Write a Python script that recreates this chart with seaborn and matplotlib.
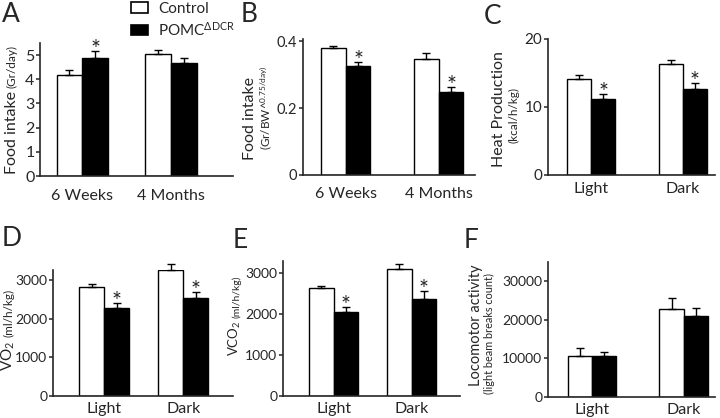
# -*- coding: utf-8 -*-
"""Food intake / metabolic cage panels A-F: Control vs POMC-deltaDCR."""

import pandas as pd
import matplotlib
matplotlib.use('Agg')
import matplotlib.pyplot as plt
from matplotlib.patches import Patch
import seaborn as sns

# ---- data ----
groups = ['Control', 'POMC']
age_cats = ['6 Weeks', '4 Months']
phase_cats = ['Light', 'Dark']

a_ctrl, a_ctrl_err = [4.17, 5.04], [0.2, 0.17]
a_pomc, a_pomc_err = [4.88, 4.68], [0.3, 0.19]
a_sig = [True, False]

b_ctrl, b_ctrl_err = [0.378, 0.345], [0.007, 0.02]
b_pomc, b_pomc_err = [0.325, 0.248], [0.012, 0.015]
b_sig = [True, True]

c_ctrl, c_ctrl_err = [14.1, 16.3], [0.55, 0.6]
c_pomc, c_pomc_err = [11.2, 12.6], [0.7, 0.9]
c_sig = [True, True]

d_ctrl, d_ctrl_err = [2830, 3260], [75, 150]
d_pomc, d_pomc_err = [2280, 2530], [130, 160]
d_sig = [True, True]

e_ctrl, e_ctrl_err = [2630, 3095], [60, 120]
e_pomc, e_pomc_err = [2045, 2365], [125, 195]
e_sig = [True, True]

f_ctrl, f_ctrl_err = [10750, 22700], [2000, 2900]
f_pomc, f_pomc_err = [10750, 20900], [1000, 2100]
f_sig = [False, False]

W, H = 720, 418
FONT = ['Lato', 'DejaVu Sans']
PALETTE = {'Control': 'white', 'POMC': 'black'}

sns.set_style('ticks')
plt.rcParams['font.family'] = FONT
plt.rcParams['mathtext.fontset'] = 'custom'
plt.rcParams['mathtext.rm'] = 'Lato'
plt.rcParams['mathtext.it'] = 'Lato:italic'
plt.rcParams['mathtext.bf'] = 'Lato:bold'


def px_box(left, top, right, bottom):
    return [left / W, 1 - bottom / H, (right - left) / W, (bottom - top) / H]


def bar_panel(ax, cats, ctrl, ctrl_err, pomc, pomc_err, sig, width, xlim, ylim,
              yticks, yticklabels, xpad, ysize=11):
    df = pd.DataFrame({
        'cat': cats * 2,
        'group': ['Control'] * len(cats) + ['POMC'] * len(cats),
        'val': ctrl + pomc,
    })
    sns.barplot(data=df, x='cat', y='val', hue='group', order=cats, hue_order=groups,
                palette=PALETTE, edgecolor='black', linewidth=1.0, errorbar=None,
                width=width, legend=False, ax=ax)
    errs = [ctrl_err, pomc_err]
    bar_conts = list(ax.containers)
    for gi, cont in enumerate(bar_conts):
        for ci, bar in enumerate(cont):
            xc = bar.get_x() + bar.get_width() / 2
            top = bar.get_height()
            ax.errorbar(xc, top, yerr=[[0], [errs[gi][ci]]], fmt='none', ecolor='black',
                        elinewidth=1.0, capsize=2.6, capthick=1.0, clip_on=False, zorder=1)
            if gi == 1 and sig[ci]:
                # asterisk sits a few pixels above the error bar cap
                ax.annotate('*', (xc, top + errs[gi][ci]), xytext=(0, -3.5),
                            textcoords='offset points', ha='center', va='baseline',
                            fontsize=17, annotation_clip=False)
    ax.set_xlim(*xlim)
    ax.set_ylim(*ylim)
    ax.set_yticks(yticks)
    ax.set_yticklabels(yticklabels)
    ax.set_xlabel('')
    ax.set_ylabel('')
    sns.despine(ax=ax)
    for s in ['left', 'bottom']:
        ax.spines[s].set_linewidth(1.2)
    ax.tick_params(axis='y', length=3.2, width=1.1, pad=0.8, labelsize=ysize)
    ax.tick_params(axis='x', length=0, pad=xpad, labelsize=11.5)


def inline_ylabel(fig, x_px, yc_px, parts, gap=3):
    """Single rotated line made of parts with different font sizes."""
    renderer = fig.canvas.get_renderer()
    texts = [fig.text(0, 0, s, fontsize=size, rotation=90, rotation_mode='anchor',
                      ha='left', va='baseline') for s, size in parts]
    lengths = [t.get_window_extent(renderer).height for t in texts]
    total = sum(lengths) + gap * (len(parts) - 1)
    y = (H - yc_px) - total / 2
    for t, L in zip(texts, lengths):
        t.set_position((x_px / W, y / H))
        y += L + gap


def line_ylabel(fig, x_px, yc_px, s, size):
    fig.text(x_px / W, 1 - yc_px / H, s, fontsize=size, rotation=90,
             rotation_mode='anchor', ha='center', va='baseline')


fig = plt.figure(figsize=(W / 100, H / 100), dpi=100)

ax_a = fig.add_axes(px_box(40, 43, 233, 176))
bar_panel(ax_a, age_cats, a_ctrl, a_ctrl_err, a_pomc, a_pomc_err, a_sig, 0.58,
          (-0.477, 1.70), (0, 5.5), [0, 1, 2, 3, 4, 5], ['0', '1', '2', '3', '4', '5'], 9,
          ysize=11.5)

ax_b = fig.add_axes(px_box(303, 39, 475, 175))
bar_panel(ax_b, age_cats, b_ctrl, b_ctrl_err, b_pomc, b_pomc_err, b_sig, 0.53,
          (-0.46, 1.39), (0, 0.406), [0, 0.2, 0.4], ['0', '0.2', '0.4'], 9, ysize=10.5)

ax_c = fig.add_axes(px_box(548, 39, 715, 175))
bar_panel(ax_c, phase_cats, c_ctrl, c_ctrl_err, c_pomc, c_pomc_err, c_sig, 0.53,
          (-0.47, 1.35), (0, 20), [0, 10, 20], ['0', '10', '20'], 5, ysize=11)

ax_d = fig.add_axes(px_box(53, 270, 233, 396))
bar_panel(ax_d, phase_cats, d_ctrl, d_ctrl_err, d_pomc, d_pomc_err, d_sig, 0.63,
          (-0.65, 1.63), (0, 3260), [0, 1000, 2000, 3000], ['0', '1000', '2000', '3000'], 4,
          ysize=10)

ax_e = fig.add_axes(px_box(283, 261, 460, 396))
bar_panel(ax_e, phase_cats, e_ctrl, e_ctrl_err, e_pomc, e_pomc_err, e_sig, 0.63,
          (-0.65, 1.62), (0, 3300), [0, 1000, 2000, 3000], ['0', '1000', '2000', '3000'], 4,
          ysize=10)

ax_f = fig.add_axes(px_box(548, 262, 715, 397))
bar_panel(ax_f, phase_cats, f_ctrl, f_ctrl_err, f_pomc, f_pomc_err, f_sig, 0.53,
          (-0.48, 1.34), (0, 35000), [0, 10000, 20000, 30000],
          ['0', '10000', '20000', '30000'], 4, ysize=10)

# y-axis labels
inline_ylabel(fig, 16, 110, [('Food intake', 11.5), ('(Gr/day)', 8.5)])
line_ylabel(fig, 254, 118, 'Food intake', 11.5)
line_ylabel(fig, 270, 108, r'(Gr/BW^$^{\mathrm{0.75/day)}}$', 8.5)
line_ylabel(fig, 503, 109, 'Heat Production', 11.5)
line_ylabel(fig, 518, 115, '(kcal/h/kg)', 8.5)
inline_ylabel(fig, 13, 330, [(r'VO$_{\mathrm{2}}$', 11), ('(ml/h/kg)', 8.5)])
inline_ylabel(fig, 239, 316, [(r'VCO$_{\mathrm{2}}$', 9.5), ('(ml/h/kg)', 7.5)])
line_ylabel(fig, 480, 325, 'Locomotor activity', 10.5)
line_ylabel(fig, 493, 333, '(light beam breaks count)', 7.8)

# panel letters
for letter, x, y in [('A', 2, 2), ('B', 241, 2), ('C', 484, 4),
                     ('D', 2, 226), ('E', 233, 228), ('F', 464, 228)]:
    fig.text(x / W, 1 - y / H, letter, fontsize=19, ha='left', va='top')

# legend
handles = [Patch(facecolor='white', edgecolor='black', linewidth=1.2),
           Patch(facecolor='black', edgecolor='black', linewidth=1.2)]
fig.legend(handles, ['Control', r'POMC$^{\mathrm{\Delta DCR}}$'], loc='upper left',
           bbox_to_anchor=(131 / W, 1 - 2 / H), frameon=False, fontsize=11,
           handlelength=1.1, handleheight=0.7, handletextpad=0.7, labelspacing=0.3,
           borderpad=0, borderaxespad=0)

fig.savefig('out.png', dpi=100)
